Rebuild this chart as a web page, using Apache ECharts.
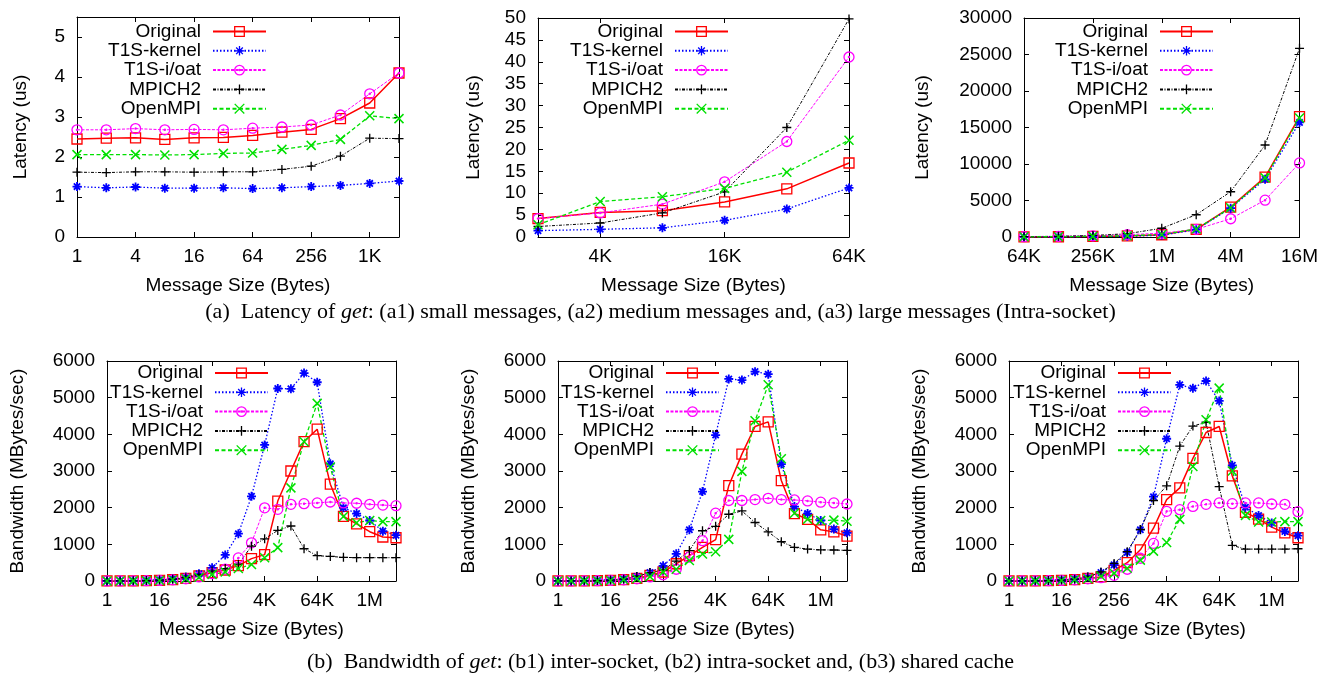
<!DOCTYPE html>
<html><head><meta charset="utf-8">
<script src="https://cdn.jsdelivr.net/npm/echarts@6/dist/echarts.min.js"></script>
<style>html,body{margin:0;padding:0;background:#fff}#c{width:1321px;height:674px}</style>
</head><body><div id="c"></div>
<script>
// ---------------- data ----------------
const seriesNames = ['Original', 'T1S-kernel', 'T1S-i/oat', 'MPICH2', 'OpenMPI'];

const catA1 = ['1','2','4','8','16','32','64','128','256','512','1K','2K'];
const catA2 = ['2K','4K','8K','16K','32K','64K'];
const catA3 = ['64K','128K','256K','512K','1M','2M','4M','8M','16M'];
const catB  = ['1','2','4','8','16','32','64','128','256','512','1K','2K','4K','8K','16K','32K','64K','128K','256K','512K','1M','2M','4M'];

// (a1) latency, small messages (us)
const a1Original = [2.45,2.47,2.48,2.44,2.48,2.49,2.54,2.62,2.69,2.96,3.35,4.10];
const a1Kernel   = [1.26,1.23,1.25,1.22,1.22,1.23,1.21,1.23,1.26,1.29,1.34,1.40];
const a1Ioat     = [2.68,2.68,2.71,2.68,2.69,2.68,2.72,2.75,2.80,3.05,3.58,4.10];
const a1Mpich    = [1.62,1.61,1.63,1.63,1.62,1.63,1.63,1.69,1.77,2.02,2.47,2.46];
const a1Openmpi  = [2.06,2.06,2.06,2.05,2.06,2.09,2.10,2.19,2.29,2.44,3.03,2.96];

// (a2) latency, medium messages (us)
const a2Original = [4.2,5.6,6.0,8.0,11.0,16.9];
const a2Kernel   = [1.45,1.75,2.1,3.8,6.4,11.2];
const a2Ioat     = [4.2,5.5,7.5,12.6,21.8,41.1];
const a2Mpich    = [2.4,3.2,5.5,10.3,25.0,49.8];
const a2Openmpi  = [2.8,8.1,9.2,11.1,14.8,22.1];

// (a3) latency, large messages (us)
const a3Original = [17,36,75,150,310,1050,4100,8200,16500];
const a3Kernel   = [11,24,50,100,250,1000,3950,7900,15700];
const a3Ioat     = [41,80,160,320,520,1050,2500,5050,10150];
const a3Mpich    = [50,100,210,450,1200,3050,6200,12600,25850];
const a3Openmpi  = [22,42,85,170,340,1100,4000,8100,16300];

// (b1) bandwidth, inter-socket (MB/s)
const b1Original = [1,2,4,8,16,35,70,140,230,300,420,610,720,2180,3000,3800,4140,2640,1760,1560,1345,1200,1180];
const b1Kernel   = [2,4,8,16,35,60,110,200,360,710,1290,2310,3710,5250,5240,5670,5420,3200,2000,1840,1650,1360,1250];
const b1Ioat     = [1,2,4,8,16,32,60,110,200,320,630,1040,1995,1955,2090,2110,2130,2155,2130,2120,2090,2070,2055];
const b1Mpich    = [1,3,6,12,25,50,90,170,270,340,460,950,1150,1380,1500,880,690,670,645,636,636,636,636];
const b1Openmpi  = [1,2,4,8,16,32,60,100,180,245,340,450,636,910,2540,3800,4845,3110,1760,1590,1650,1620,1620];

// (b2) bandwidth, intra-socket (MB/s)
const b2Original = [1,2,4,8,16,35,70,155,245,470,690,915,1128,2600,3460,4215,4340,2740,1840,1680,1395,1340,1225];
const b2Kernel   = [2,4,8,16,35,60,125,230,415,740,1400,2440,3980,5510,5480,5710,5640,3190,2030,1840,1650,1415,1315];
const b2Ioat     = [1,2,4,8,16,32,60,110,170,320,650,1100,1850,2195,2195,2220,2255,2220,2210,2185,2150,2130,2100];
const b2Mpich    = [1,3,6,12,25,50,125,230,300,540,830,1370,1490,1820,1910,1595,1340,1070,915,870,850,845,835];
const b2Openmpi  = [1,2,4,8,16,32,60,120,245,320,560,735,800,1135,2990,4370,5350,3335,1850,1685,1650,1660,1630];

// (b3) bandwidth, shared cache (MB/s)
const b3Original = [1,2,4,8,16,35,70,110,290,500,850,1440,2220,2540,3345,4050,4215,2865,1870,1690,1470,1310,1180];
const b3Kernel   = [2,4,8,16,35,60,110,230,440,780,1400,2300,3880,5350,5255,5455,4910,3155,2010,1785,1585,1350,1235];
const b3Ioat     = [1,2,4,8,16,32,60,90,155,320,620,1025,1900,1945,2035,2090,2130,2110,2130,2130,2100,2090,1890];
const b3Mpich    = [1,3,6,12,25,50,110,245,480,800,1405,2195,2595,3680,4225,4330,2575,970,870,870,870,870,880];
const b3Openmpi  = [1,2,4,8,16,32,60,127,210,350,570,815,1050,1680,3125,4400,5260,3000,1790,1610,1610,1620,1620];

const captionA = ['(a)  Latency of ', 'get', ': (a1) small messages, (a2) medium messages and, (a3) large messages (Intra-socket)'];
const captionB = ['(b)  Bandwidth of ', 'get', ': (b1) inter-socket, (b2) intra-socket and, (b3) shared cache'];

// ---------------- styles ----------------
const FONT = 'Liberation Sans';
const SERIF = 'Liberation Serif';
const FS = 19;
const SQ = 'path://M0,0L10,0L10,10L0,10Z';
const AST = 'path://M5,0L5,10M0,5L10,5M1.5,1.5L8.5,8.5M8.5,1.5L1.5,8.5';
const CIRC = 'path://M0,5A5,5,0,1,1,10,5A5,5,0,1,1,0,5ZM4.4,5A0.6,0.6,0,1,1,5.6,5A0.6,0.6,0,1,1,4.4,5Z';
const PLUS = 'path://M5,0L5,10M0,5L10,5';
const CROSS = 'path://M0,0L10,10M10,0L0,10';
const styles = [
  {color:'#ff0000', type:'solid', width:1.5, symbol:SQ, size:10, bw:1.3},
  {color:'#0000ff', type:[1.5,2], width:1.3, symbol:AST, size:9, bw:1.8},
  {color:'#ff00ff', type:[3,1.5], width:1, symbol:CIRC, size:10, bw:1.3},
  {color:'#000000', type:[3,1.5,1,1.5], width:1, symbol:PLUS, size:9, bw:1.3},
  {color:'#00e000', type:[4,2.5], width:1.3, symbol:CROSS, size:9, bw:1.5}
];

const panels = [
  {left:77,  top:17,  width:322, height:220, cats:catA1, show:i=>i%2===0, y:[0,5.5,1], yName:'Latency (us)', yGap:47,
   data:[a1Original,a1Kernel,a1Ioat,a1Mpich,a1Openmpi], legRight:267, legTop:22, hideMax:true},
  {left:538, top:18,  width:311, height:219, cats:catA2, show:i=>i%2===1, y:[0,50,5], yName:'Latency (us)', yGap:55,
   data:[a2Original,a2Kernel,a2Ioat,a2Mpich,a2Openmpi], legRight:729, legTop:22},
  {left:1024,top:18,  width:276, height:219, cats:catA3, show:i=>i%2===0, y:[0,30000,5000], yName:'Latency (us)', yGap:92,
   data:[a3Original,a3Kernel,a3Ioat,a3Mpich,a3Openmpi], legRight:1214, legTop:22},
  {left:107, top:361, width:289, height:220, cats:catB, show:i=>i%4===0, y:[0,6000,1000], yName:'Bandwidth (MBytes/sec)', yGap:80,
   data:[b1Original,b1Kernel,b1Ioat,b1Mpich,b1Openmpi], legRight:269, legTop:363.5},
  {left:558, top:361, width:289, height:220, cats:catB, show:i=>i%4===0, y:[0,6000,1000], yName:'Bandwidth (MBytes/sec)', yGap:80,
   data:[b2Original,b2Kernel,b2Ioat,b2Mpich,b2Openmpi], legRight:720, legTop:363.5},
  {left:1009,top:361, width:289, height:220, cats:catB, show:i=>i%4===0, y:[0,6000,1000], yName:'Bandwidth (MBytes/sec)', yGap:80,
   data:[b3Original,b3Kernel,b3Ioat,b3Mpich,b3Openmpi], legRight:1172, legTop:363.5}
];

const txt = {color:'#000', fontSize:FS, fontFamily:FONT};
const option = {animation:false, backgroundColor:'#fff', textStyle:{fontFamily:FONT},
  title:[], grid:[], xAxis:[], yAxis:[], legend:[], series:[]};

function caption(parts, top) {
  const base = {fontFamily:SERIF, fontSize:22, fontWeight:'normal', color:'#000'};
  return {text:'{n|' + parts[0] + '}{i|' + parts[1] + '}{n|' + parts[2] + '}', left:'center', top:top, padding:0,
    textStyle:{fontWeight:'normal', rich:{n:base, i:Object.assign({}, base, {fontStyle:'italic'})}}};
}
option.title.push(caption(captionA, 301));
option.title.push(caption(captionB, 651));

panels.forEach((p, gi) => {
  option.grid.push({left:p.left, top:p.top, width:p.width, height:p.height});
  const line = {onZero:false, lineStyle:{color:'#000', width:1}};
  const tick = {inside:true, length:5, interval:(i)=>p.show(i), lineStyle:{color:'#000', width:1}};
  option.xAxis.push({gridIndex:gi, type:'category', data:p.cats, boundaryGap:false, position:'bottom',
    axisLine:line, axisTick:tick, splitLine:{show:false},
    axisLabel:Object.assign({interval:(i)=>p.show(i), margin:10, hideOverlap:false}, txt),
    name:'Message Size (Bytes)', nameLocation:'middle', nameGap:39, nameTextStyle:txt});
  option.xAxis.push({gridIndex:gi, type:'category', data:p.cats, boundaryGap:false, position:'top',
    axisLine:line, axisTick:tick, splitLine:{show:false}, axisLabel:{show:false}});
  const ytick = {inside:true, length:5, lineStyle:{color:'#000', width:1}};
  option.yAxis.push({gridIndex:gi, type:'value', min:p.y[0], max:p.y[1], interval:p.y[2], position:'left',
    axisLine:Object.assign({show:true}, line), axisTick:Object.assign({show:true}, ytick), splitLine:{show:false},
    axisLabel:Object.assign({margin:12, showMaxLabel:!p.hideMax, hideOverlap:false, formatter:(v)=>String(v)}, txt),
    name:p.yName, nameLocation:'middle', nameGap:p.yGap, nameTextStyle:txt});
  option.yAxis.push({gridIndex:gi, type:'value', min:p.y[0], max:p.y[1], interval:p.y[2], position:'right',
    axisLine:Object.assign({show:true}, line), axisTick:Object.assign({show:true}, ytick), splitLine:{show:false},
    axisLabel:{show:false}});
  option.legend.push({orient:'vertical', align:'right', right:1321 - p.legRight, top:p.legTop, padding:0,
    itemWidth:53, itemHeight:12, itemGap:0.3, selectedMode:false, data:seriesNames,
    itemStyle:{borderWidth:1.3},
    textStyle:{color:'#000', fontSize:FS, fontFamily:FONT, lineHeight:18, padding:[0,7,0,0]}});
  seriesNames.forEach((name, si) => {
    const s = styles[si];
    option.series.push({type:'line', name:name, xAxisIndex:gi*2, yAxisIndex:gi*2, data:p.data[si],
      symbol:s.symbol, symbolSize:s.size, showAllSymbol:true, color:s.color,
      lineStyle:{color:s.color, type:s.type, width:s.width},
      itemStyle:{color:'rgba(0,0,0,0)', borderColor:s.color, borderWidth:s.bw},
      emphasis:{disabled:true}, silent:true});
  });
});

const chart = echarts.init(document.getElementById('c'), null, {renderer:'canvas'});
chart.setOption(option);
</script>
</body></html>
